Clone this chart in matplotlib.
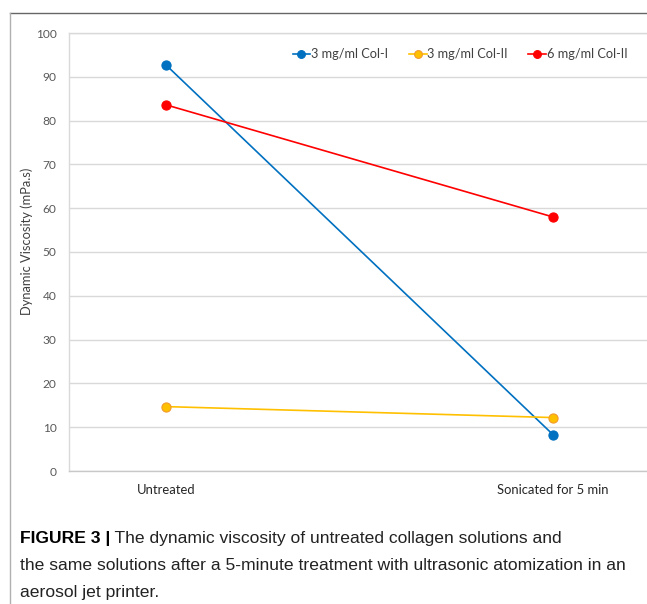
import matplotlib
matplotlib.use("Agg")
import matplotlib.pyplot as plt
from matplotlib.lines import Line2D

categories = ["Untreated", "Sonicated for 5 min"]
series_names = ["3 mg/ml Col-I", "3 mg/ml Col-II", "6 mg/ml Col-II"]
col1_3mg = [92.7, 8.3]
col2_3mg = [14.7, 12.2]
col2_6mg = [83.6, 58.0]
yticks = [0, 10, 20, 30, 40, 50, 60, 70, 80, 90, 100]
ylabel = "Dynamic Viscosity (mPa.s)"
caption_bold = "FIGURE 3 |"
caption_lines = [
    " The dynamic viscosity of untreated collagen solutions and",
    "the same solutions after a 5-minute treatment with ultrasonic atomization in an",
    "aerosol jet printer.",
]

W, H = 647, 604
fig = plt.figure(figsize=(W / 100, H / 100), dpi=100)

def fx(x):
    return x / W

def fy(y):
    return 1 - y / H

# outer frame lines
fig.add_artist(Line2D([fx(9.5), 1], [fy(12.5), fy(12.5)], color="#666666", lw=1.0))
fig.add_artist(Line2D([fx(9.5), fx(9.5)], [fy(12.5), 0], color="#b0b0b0", lw=1.0))

L, T, B, R = 69, 33, 471, 647
ax = fig.add_axes([fx(L), fy(B), fx(R - L), (B - T) / H])

chart_font = ["Lato", "DejaVu Sans"]
colors = ["#0070c0", "#ffc000", "#ff0000"]
edges = ["#0070c0", "#f29a2e", "#ff0000"]
data = [col1_3mg, col2_3mg, col2_6mg]
xs = list(range(len(categories)))
for name, vals, c, e in zip(series_names, data, colors, edges):
    ax.plot(xs, vals, color=c, lw=1.2, marker="o", markersize=6.6,
            markerfacecolor=c, markeredgecolor=e, markeredgewidth=0.8,
            label=name, zorder=3)

ax.set_ylim(0, 100)
ax.set_xlim(-(166 - L) / 387, 1 + (R - 553) / 387)
ax.set_yticks(yticks)
ax.set_yticklabels([str(t) for t in yticks], fontfamily=chart_font, fontsize=8.6, color="#595959")
ax.set_xticks(xs)
ax.set_xticklabels(categories, fontfamily=chart_font, fontsize=9.4, color="#262626")
ax.tick_params(axis="y", length=0, pad=9)
ax.tick_params(axis="x", length=0, pad=9)
ax.grid(axis="y", color="#d9d9d9", lw=1.0)
ax.set_axisbelow(True)
ax.spines["right"].set_visible(False)
ax.spines["left"].set_color("#d9d9d9")
ax.spines["top"].set_color("#d9d9d9")
ax.spines["bottom"].set_color("#c8c8c8")
for s in ax.spines.values():
    s.set_linewidth(1.0)

fig.text(fx(27), fy(241), ylabel, rotation=90, ha="center", va="center",
         fontfamily=chart_font, fontsize=9.3, color="#404040")

leg = ax.legend(loc="center", bbox_to_anchor=(fx(460), fy(54)), bbox_transform=fig.transFigure,
                ncol=3, frameon=False, handlelength=1.4, handletextpad=0.05,
                columnspacing=1.6, markerscale=0.85, prop={"family": chart_font, "size": 9.2})
for t in leg.get_texts():
    t.set_color("#404040")

cap_font = ["Liberation Sans", "DejaVu Sans"]
cap_size = 12.6
tb = fig.text(fx(20), fy(538), caption_bold, fontfamily=cap_font, fontsize=cap_size,
              fontweight="bold", color="black", va="center", ha="left")
fig.canvas.draw()
bb = tb.get_window_extent()
fig.text(bb.x1 / W, fy(538), caption_lines[0], fontfamily=cap_font, fontsize=cap_size,
         color="#222222", va="center", ha="left")
fig.text(fx(20), fy(565), caption_lines[1], fontfamily=cap_font, fontsize=cap_size,
         color="#222222", va="center", ha="left")
fig.text(fx(20), fy(592), caption_lines[2], fontfamily=cap_font, fontsize=cap_size,
         color="#222222", va="center", ha="left")

fig.savefig("out.png", dpi=100)
